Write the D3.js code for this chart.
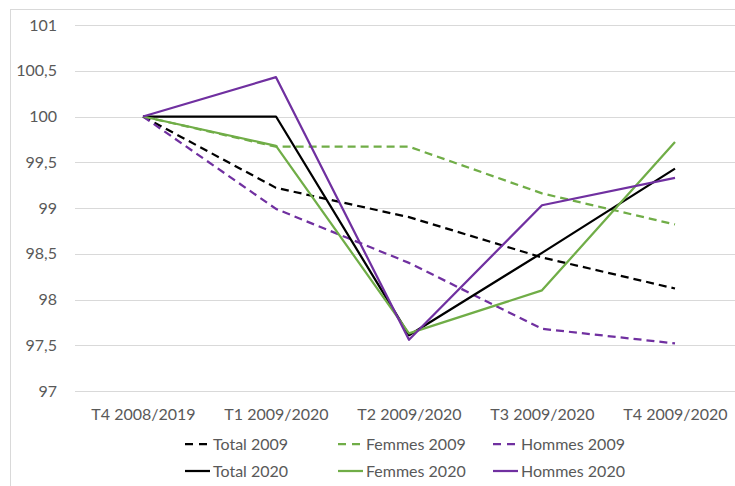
<!DOCTYPE html>
<html><head><meta charset="utf-8">
<script src="https://cdn.jsdelivr.net/npm/d3@7"></script>
<style>body{margin:0;background:#fff}svg{display:block}</style>
</head><body>
<svg id="c" width="735" height="486"></svg>
<script>
const categories = ["T4 2008/2019","T1 2009/2020","T2 2009/2020","T3 2009/2020","T4 2009/2020"];
const yTicks = [97,97.5,98,98.5,99,99.5,100,100.5,101];
const total2009  = [100, 99.22, 98.90, 98.46, 98.12];
const femmes2009 = [100, 99.67, 99.67, 99.16, 98.82];
const hommes2009 = [100, 98.99, 98.40, 97.68, 97.52];
const total2020  = [100, 100, 97.61, 98.51, 99.43];
const femmes2020 = [100, 99.68, 97.63, 98.10, 99.72];
const hommes2020 = [100, 100.43, 97.56, 99.03, 99.33];

const series = [
  {name:"Total 2009", values:total2009, color:"#000000", dash:"8,5"},
  {name:"Femmes 2009", values:femmes2009, color:"#70AD47", dash:"8,5"},
  {name:"Hommes 2009", values:hommes2009, color:"#7030A0", dash:"8,5"},
  {name:"Total 2020", values:total2020, color:"#000000", dash:null},
  {name:"Femmes 2020", values:femmes2020, color:"#70AD47", dash:null},
  {name:"Hommes 2020", values:hommes2020, color:"#7030A0", dash:null}
];

const svg = d3.select("#c");
const font = "Lato, 'Open Sans', sans-serif";
const fs = "16px";
svg.append("rect").attr("x",10.5).attr("y",9.5).attr("width",740).attr("height",500)
  .attr("fill","#fff").attr("stroke","#d9d9d9");

const x = d3.scalePoint().domain(categories).range([143,675]);
const y = d3.scaleLinear().domain([97,101]).range([391,25]);
const gridLeft = 75, gridRight = 735;

const fmt = v => String(v).replace(".", ",");
const yAxis = d3.axisLeft(y).tickValues(yTicks).tickFormat(fmt).tickSize(0).tickPadding(0);
const gy = svg.append("g").attr("transform","translate(57,0)").call(yAxis);
gy.select(".domain").remove();
gy.selectAll("text").attr("fill","#595959").style("font-family",font).style("font-size",fs);

svg.append("g").selectAll("line").data(yTicks).join("line")
  .attr("x1",gridLeft).attr("x2",gridRight)
  .attr("y1",d=>Math.round(y(d))+0.5).attr("y2",d=>Math.round(y(d))+0.5)
  .attr("stroke","#d9d9d9").attr("stroke-width",1);

const xAxis = d3.axisBottom(x).tickSize(0).tickPadding(0);
const gx = svg.append("g").attr("transform","translate(0,409)").call(xAxis);
gx.select(".domain").remove();
gx.selectAll("text").attr("fill","#595959").style("font-family",font).style("font-size",fs);

const line = d3.line().x((d,i)=>x(categories[i])).y(d=>y(d));
svg.append("g").selectAll("path").data(series).join("path")
  .attr("d",d=>line(d.values)).attr("fill","none")
  .attr("stroke",d=>d.color).attr("stroke-width",2.25)
  .attr("stroke-dasharray",d=>d.dash).attr("stroke-linejoin","round");

const legX = [185,338,493], legY = [444,471];
const lg = svg.append("g").selectAll("g").data(series).join("g")
  .attr("transform",(d,i)=>`translate(${legX[i%3]},${legY[Math.floor(i/3)]})`);
lg.append("line").attr("x1",0).attr("x2",25).attr("y1",0).attr("y2",0)
  .attr("stroke",d=>d.color).attr("stroke-width",2.25).attr("stroke-dasharray",d=>d.dash?"8,6":null);
lg.append("text").attr("x",28).attr("y",0).attr("dy","0.35em").text(d=>d.name)
  .attr("fill","#595959").style("font-family",font).style("font-size",fs);
</script>
</body></html>
